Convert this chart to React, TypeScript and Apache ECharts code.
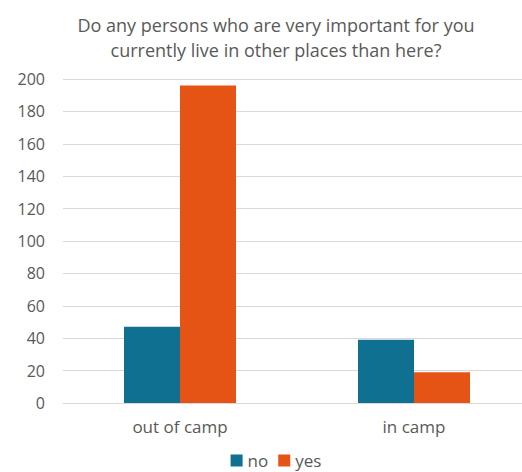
import React, { useEffect, useRef } from "react";
import * as echarts from "echarts";

const categories = ["out of camp", "in camp"];
const noValues = [47, 39];
const yesValues = [196, 19];
const seriesNames = ["no", "yes"];
const titleText = "Do any persons who are very important for you\ncurrently live in other places than here?";

export default function App() {
  const ref = useRef<HTMLDivElement>(null);
  useEffect(() => {
    document.body.style.margin = "0";
    const chart = echarts.init(ref.current!, null, { renderer: "svg" });
    const font = "'Open Sans', 'Noto Sans', sans-serif";
    chart.setOption({
      animation: false,
      backgroundColor: "#ffffff",
      title: {
        text: titleText,
        left: "center",
        top: 7,
        textStyle: {
          fontFamily: font,
          fontSize: 18,
          fontWeight: "normal",
          color: "#595959",
          lineHeight: 25,
        },
      },
      legend: {
        data: seriesNames,
        bottom: -2,
        left: "center",
        itemWidth: 12,
        itemHeight: 12,
        itemGap: 10,
        icon: "rect",
        textStyle: { fontFamily: font, fontSize: 17, color: "#595959" },
      },
      grid: { left: 63, right: 21, top: 79, bottom: 69, containLabel: false },
      xAxis: {
        type: "category",
        data: categories,
        axisLine: { lineStyle: { color: "#d9d9d9" } },
        axisTick: { show: false },
        axisLabel: { fontFamily: font, fontSize: 17, color: "#595959", margin: 15 },
      },
      yAxis: {
        type: "value",
        min: 0,
        max: 200,
        interval: 20,
        axisLine: { show: false },
        axisTick: { show: false },
        splitLine: { lineStyle: { color: "#d9d9d9", width: 1 } },
        axisLabel: { fontFamily: font, fontSize: 16, color: "#595959", margin: 18 },
      },
      series: [
        {
          name: seriesNames[0],
          type: "bar",
          data: noValues,
          barWidth: 56,
          barGap: "0%",
          itemStyle: { color: "#0f7092" },
        },
        {
          name: seriesNames[1],
          type: "bar",
          data: yesValues,
          barWidth: 56,
          barGap: "0%",
          itemStyle: { color: "#e55315" },
        },
      ],
    });
    return () => chart.dispose();
  }, []);
  return (
    <div style={{ width: 522, height: 472, overflow: "hidden", position: "relative" }}>
      <div ref={ref} style={{ width: 552, height: 472 }} />
    </div>
  );
}
